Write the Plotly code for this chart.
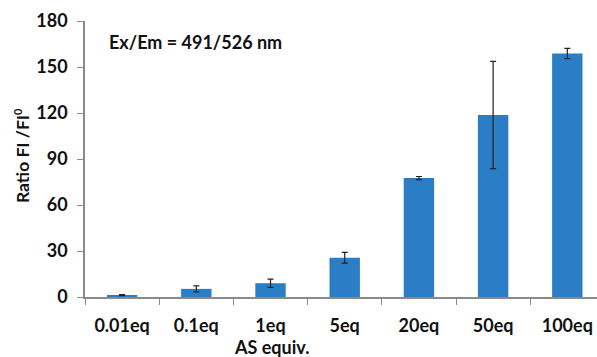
import plotly.graph_objects as go

categories = ["0.01eq", "0.1eq", "1eq", "5eq", "20eq", "50eq", "100eq"]
ratio_values = [1.2, 5.3, 9.0, 25.6, 77.6, 118.7, 158.8]
ratio_errors = [0.4, 2.0, 2.7, 3.5, 1.0, 35.0, 3.3]
y_ticks = [0, 30, 60, 90, 120, 150, 180]

FONT = "Lato"

fig = go.Figure()
fig.add_trace(go.Bar(
    x=categories, y=ratio_values,
    marker=dict(color="#2B7EC6", line=dict(width=0)),
    width=0.41,
    error_y=dict(type="data", array=ratio_errors, visible=True,
                 color="#222222", thickness=1.2, width=3),
))

fig.update_layout(
    width=597, height=357,
    margin=dict(l=85, r=0, t=21, b=60),
    paper_bgcolor="white", plot_bgcolor="white",
    showlegend=False,
    font=dict(family=FONT, size=15, color="#111111"),
    xaxis=dict(
        type="category", range=[-0.5, 6.4],
        showline=True, linecolor="#8a8a8a", linewidth=1.5,
        ticks="outside", tickson="boundaries", ticklen=6, tickcolor="#8a8a8a",
        ticklabelstandoff=12,
        tickfont=dict(family=FONT, size=18, color="#111111", weight="bold"),
        showgrid=False, zeroline=False,
    ),
    yaxis=dict(
        range=[0, 180], tickvals=y_ticks,
        showline=True, linecolor="#8a8a8a", linewidth=1.5,
        ticks="outside", ticklen=6, tickcolor="#8a8a8a",
        ticklabelstandoff=6,
        tickfont=dict(family=FONT, size=18, color="#111111", weight="bold"),
        showgrid=False, zeroline=False,
    ),
    annotations=[
        dict(text="Ex/Em = 491/526 nm", xref="paper", yref="paper",
             x=(107 - 85) / 512, y=(297 - 42) / 276, xanchor="left", yanchor="middle",
             showarrow=False, font=dict(family=FONT, size=18, color="#111111", weight="bold")),
        dict(text="Ratio FI /FI<sup><span style='font-size:11px'>0</span></sup>",
             xref="paper", yref="paper",
             x=(22 - 85) / 512, y=(297 - 156) / 276, xanchor="center", yanchor="middle", textangle=-90,
             showarrow=False, font=dict(family=FONT, size=17.5, color="#111111", weight="bold")),
        dict(text="AS equiv.", xref="paper", yref="paper",
             x=(271 - 85) / 512, y=-(347 - 297) / 276, xanchor="center", yanchor="middle",
             showarrow=False, font=dict(family=FONT, size=18, color="#111111", weight="bold")),
    ],
)

fig.write_html("out.html")
